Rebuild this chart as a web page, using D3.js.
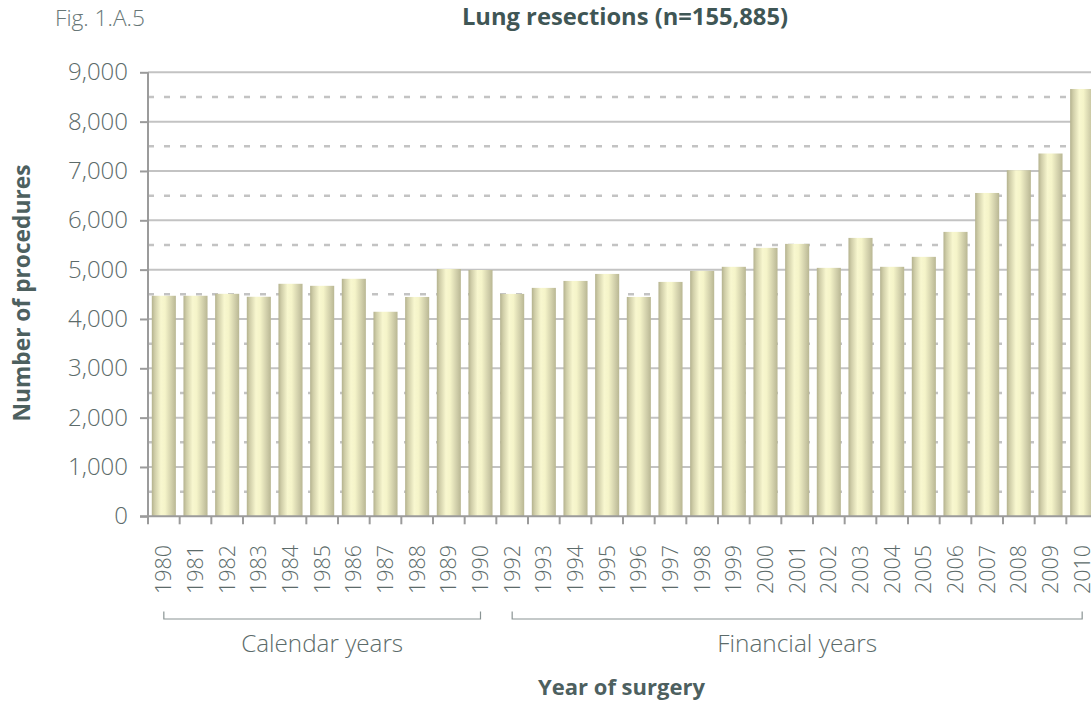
<!DOCTYPE html>
<html>
<head>
<meta charset="utf-8">
<script src="https://cdn.jsdelivr.net/npm/d3@7"></script>
<style>
  body { margin: 0; background: #fff; }
  svg { display: block; font-family: "Open Sans", "Noto Sans", sans-serif; }
</style>
</head>
<body>
<div id="chart"></div>
<script>
// Lung resections by year of surgery (1991 not reported)
const years = ['1980', '1981', '1982', '1983', '1984', '1985', '1986', '1987', '1988', '1989', '1990',
  '1992', '1993', '1994', '1995', '1996', '1997', '1998', '1999', '2000', '2001', '2002', '2003',
  '2004', '2005', '2006', '2007', '2008', '2009', '2010'];
const procedures = [4470, 4470, 4510, 4450, 4713, 4672, 4814, 4146, 4446, 5013, 4993,
  4508, 4630, 4771, 4913, 4446, 4751, 4975, 5057, 5441, 5522, 5036, 5643,
  5057, 5259, 5765, 6554, 7015, 7354, 8662];
const majorTicks = [0, 1000, 2000, 3000, 4000, 5000, 6000, 7000, 8000, 9000];
const minorTicks = [500, 1500, 2500, 3500, 4500, 5500, 6500, 7500, 8500];
const groupLabels = ['Calendar years', 'Financial years'];
const groupFrom = ['1980', '1992'];
const groupTo = ['1990', '2010'];

const W = 1091, H = 704;
const plotL = 148, plotR = 1098, plotT = 72.3, plotB = 516.3;
const INK = '#5c6b6a', INK_DARK = '#3f5655', AXIS = '#9b9b9b', GRID = '#c3c3c3';

const svg = d3.select('#chart').append('svg')
  .attr('width', W).attr('height', H)
  .attr('viewBox', `0 0 ${W} ${H}`);

// scale text so it spans the width measured on the reference
function fit(sel, width) {
  const len = sel.node().getComputedTextLength();
  const fs = parseFloat(sel.attr('font-size'));
  sel.attr('font-size', (fs * width / len).toFixed(2));
  return sel;
}

const x = d3.scaleBand().domain(years).range([plotL, plotR])
  .paddingInner(0.24).paddingOuter(0.12);
const y = d3.scaleLinear().domain([0, 9000]).range([plotB, plotT]);

// bar shading, darker at the edges like a cylinder
const defs = svg.append('defs');
const grad = defs.append('linearGradient').attr('id', 'bar-grad')
  .attr('x1', '0%').attr('x2', '100%').attr('y1', '0%').attr('y2', '0%');
[['0%', '#b4b28e'], ['12%', '#cfcda8'], ['38%', '#f8f7cf'], ['55%', '#f5f4c9'], ['85%', '#cdcba7'], ['100%', '#b9b793']]
  .forEach(([o, c]) => grad.append('stop').attr('offset', o).attr('stop-color', c));

// gridlines
svg.append('g').selectAll('line').data(minorTicks).join('line')
  .attr('x1', plotL).attr('x2', W)
  .attr('y1', d => y(d)).attr('y2', d => y(d))
  .attr('stroke', GRID).attr('stroke-width', 2.5)
  .attr('stroke-dasharray', '6,10');
svg.append('g').selectAll('line').data(majorTicks.slice(1)).join('line')
  .attr('x1', plotL).attr('x2', W)
  .attr('y1', d => y(d)).attr('y2', d => y(d))
  .attr('stroke', GRID).attr('stroke-width', 2);

// bars
svg.append('g').selectAll('rect').data(years).join('rect')
  .attr('x', d => x(d))
  .attr('width', x.bandwidth())
  .attr('y', (d, i) => y(procedures[i]))
  .attr('height', (d, i) => y(0) - y(procedures[i]))
  .attr('fill', 'url(#bar-grad)');

// y axis
const yAxis = svg.append('g').attr('transform', `translate(${plotL},0)`)
  .call(d3.axisLeft(y).tickValues(majorTicks).tickSize(8).tickPadding(12).tickFormat(d3.format(',')));
yAxis.select('.domain').attr('stroke', AXIS).attr('stroke-width', 2).attr('d', `M0,${plotT}V${plotB}`);
yAxis.selectAll('.tick line').attr('stroke', AXIS).attr('stroke-width', 2);
const yText = yAxis.selectAll('.tick text').attr('fill', INK).attr('font-size', 22).attr('font-weight', 300)
  .attr('font-family', '"Open Sans", sans-serif');
const topLabel = yText.filter(d => d === 9000);
fit(topLabel, 60);
yText.attr('font-size', topLabel.attr('font-size'));

// x axis: line, ticks at band boundaries, rotated year labels
const xg = svg.append('g');
xg.append('line').attr('x1', plotL - 8).attr('x2', plotR)
  .attr('y1', plotB).attr('y2', plotB)
  .attr('stroke', AXIS).attr('stroke-width', 2);
xg.selectAll('.bt').data(d3.range(years.length + 1)).join('line').attr('class', 'bt')
  .attr('x1', i => plotL + i * x.step()).attr('x2', i => plotL + i * x.step())
  .attr('y1', plotB).attr('y2', plotB + 8)
  .attr('stroke', AXIS).attr('stroke-width', 2);
const yearText = xg.selectAll('.yl').data(years).join('text').attr('class', 'yl')
  .attr('transform', d => `translate(${x(d) + x.bandwidth() / 2},545) rotate(-90)`)
  .attr('text-anchor', 'end').attr('dy', '0.35em')
  .attr('fill', INK).attr('font-size', 20).attr('font-weight', 300)
  .text(d => d);
const firstYear = d3.select(yearText.nodes()[0]);
fit(firstYear, 49);
yearText.attr('font-size', firstYear.attr('font-size'));

// group brackets
groupLabels.forEach((label, i) => {
  const x0 = x(groupFrom[i]) + x.bandwidth() / 2;
  const x1 = x(groupTo[i]) + x.bandwidth() / 2;
  svg.append('path')
    .attr('d', `M${x0},611.5V619H${x1}V611.5`)
    .attr('fill', 'none').attr('stroke', '#8a9494').attr('stroke-width', 1.2);
  const t = svg.append('text').attr('x', (x0 + x1) / 2).attr('y', 652)
    .attr('text-anchor', 'middle').attr('fill', INK)
    .attr('font-size', 24).attr('font-weight', 300).text(label);
  fit(t, i === 0 ? 162 : 160);
});

// titles
fit(svg.append('text').attr('x', 55).attr('y', 26).attr('fill', '#687777')
  .attr('font-size', 22).attr('font-weight', 300).text('Fig. 1.A.5'), 90);

fit(svg.append('text').attr('x', 625).attr('y', 25).attr('text-anchor', 'middle')
  .attr('fill', INK_DARK).attr('font-size', 20).attr('font-weight', 700)
  .text('Lung resections (n=155,885)'), 326);

fit(svg.append('text').attr('transform', 'translate(30,293) rotate(-90)')
  .attr('text-anchor', 'middle').attr('fill', '#4d605f')
  .attr('font-size', 20).attr('font-weight', 700)
  .text('Number of procedures'), 257);

fit(svg.append('text').attr('x', 621.5).attr('y', 695).attr('text-anchor', 'middle')
  .attr('fill', '#4d605f').attr('font-size', 20).attr('font-weight', 700)
  .text('Year of surgery'), 167);
</script>
</body>
</html>
